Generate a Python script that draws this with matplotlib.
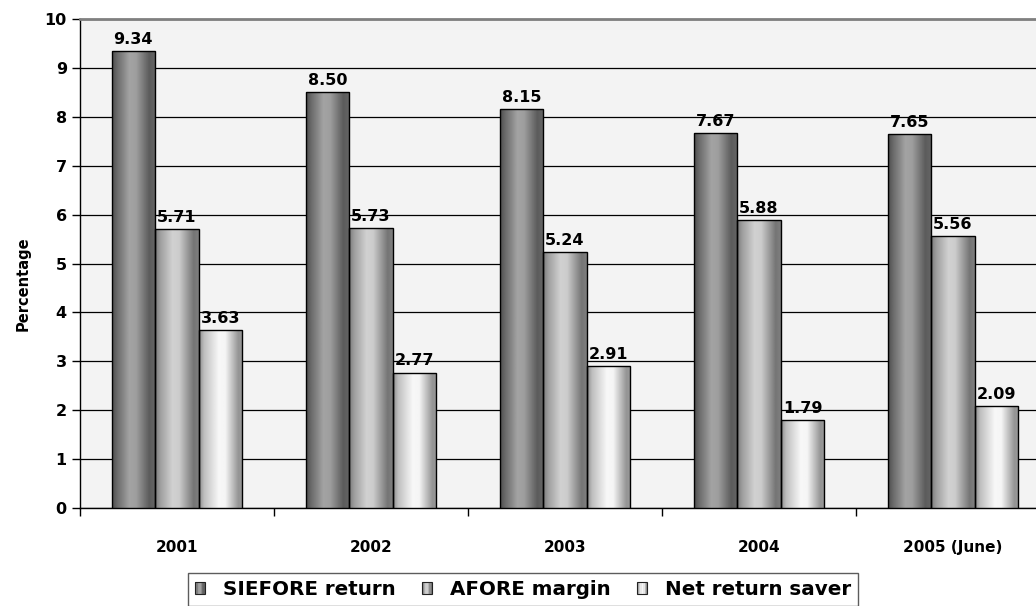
import numpy as np
import matplotlib
matplotlib.use("Agg")
import matplotlib.pyplot as plt
from matplotlib.patches import Rectangle
from matplotlib.legend_handler import HandlerBase

years = ['2001', '2002', '2003', '2004', '2005 (June)']
siefore = [9.34, 8.50, 8.15, 7.67, 7.65]
afore = [5.71, 5.73, 5.24, 5.88, 5.56]
net = [3.63, 2.77, 2.91, 1.79, 2.09]
series_names = ['SIEFORE return', 'AFORE margin', 'Net return saver']
yticks = list(range(0, 11))

# gradient stops (position across bar, gray level)
grad_stops = [
    ([0.0, 0.12, 0.40, 0.55, 0.85, 1.0], [0.30, 0.42, 0.64, 0.62, 0.36, 0.40]),
    ([0.0, 0.12, 0.40, 0.55, 0.88, 1.0], [0.48, 0.62, 0.82, 0.80, 0.46, 0.50]),
    ([0.0, 0.12, 0.45, 0.60, 0.90, 1.0], [0.55, 0.75, 0.97, 0.96, 0.58, 0.60]),
]

plt.rcParams['font.family'] = ['DejaVu Sans']
plt.rcParams['font.weight'] = 'bold'

W, H = 1036, 606
fig = plt.figure(figsize=(W / 100, H / 100), dpi=100)
ax = fig.add_axes([80 / W, 1 - 508 / H, 970 / W, 489 / H])
ax.set_facecolor('#f3f3f3')

x = np.arange(len(years))
bw = 0.225
offsets = [-bw, 0, bw]
all_series = [siefore, afore, net]

for si, (vals, off) in enumerate(zip(all_series, offsets)):
    pos, lev = grad_stops[si]
    g = np.interp(np.linspace(0, 1, 200), pos, lev)[None, :]
    bars = ax.bar(x + off, vals, width=bw, facecolor='none', edgecolor='black',
                  linewidth=1.0, zorder=4)
    for b, v in zip(bars, vals):
        x0 = b.get_x()
        im = ax.imshow(g, cmap='gray', vmin=0, vmax=1, aspect='auto',
                       extent=[x0, x0 + bw, 0, v], interpolation='bilinear', zorder=3)
        im.set_clip_path(b)
        ax.annotate(f"{v:.2f}", (x0 + bw / 2, v), xytext=(0, 3), textcoords='offset points',
                    ha='center', va='bottom', fontsize=11.5, fontweight='bold', zorder=5)

ax.set_xlim(-0.5, len(years) - 0.5)
ax.set_ylim(0, 10)
ax.set_yticks(yticks)
ax.set_yticklabels([str(t) for t in yticks])
ax.yaxis.grid(True, color='black', linewidth=0.9, zorder=1)
ax.set_axisbelow(True)

ax.set_xticks(np.arange(-0.5, len(years)), minor=False)
ax.set_xticklabels([])
ax.set_xticks(x, minor=True)
ax.set_xticklabels(years, minor=True)
ax.tick_params(axis='x', which='major', direction='out', length=6, width=1, color='black')
ax.tick_params(axis='x', which='minor', length=0, pad=23, labelsize=11)
ax.tick_params(axis='y', direction='out', length=6, width=1, pad=3.5, labelsize=11.5)
for lab in ax.get_xticklabels(minor=True) + ax.get_yticklabels():
    lab.set_fontweight('bold')

ax.spines['right'].set_visible(False)
ax.spines['top'].set_color('#808080')
ax.spines['top'].set_linewidth(2)
ax.spines['left'].set_linewidth(1)
ax.spines['bottom'].set_linewidth(1)

fig.text(23 / W, 1 - 284 / H, 'Percentage', rotation=90, ha='center', va='center',
         fontsize=10.5, fontweight='bold')


class GradHandler(HandlerBase):
    def __init__(self, stops):
        super().__init__()
        self.stops = stops

    def create_artists(self, legend, orig_handle, xdescent, ydescent, width, height,
                       fontsize, trans):
        pos, lev = self.stops
        n = 7
        arts = []
        for i in range(n):
            c = float(np.interp((i + 0.5) / n, pos, lev))
            arts.append(Rectangle((-xdescent + i * width / n, -ydescent), width / n, height,
                                  facecolor=(c, c, c), edgecolor='none', transform=trans))
        arts.append(Rectangle((-xdescent, -ydescent), width, height, fill=False,
                              edgecolor='#222222', linewidth=0.8, transform=trans))
        return arts


handles = [Rectangle((0, 0), 1, 1) for _ in series_names]
hmap = {h: GradHandler(grad_stops[i]) for i, h in enumerate(handles)}
leg = fig.legend(handles, series_names, handler_map=hmap, ncol=3,
                 loc='upper left', bbox_to_anchor=(188 / W, 1 - 573 / H),
                 frameon=True, fancybox=False, edgecolor='#333333',
                 prop={'size': 14.3, 'weight': 'bold'},
                 handlelength=0.5, handleheight=0.62, handletextpad=0.9,
                 columnspacing=1.35, borderpad=0.35, borderaxespad=0)
leg.get_frame().set_linewidth(1.0)

fig.savefig('out.png', dpi=100)
